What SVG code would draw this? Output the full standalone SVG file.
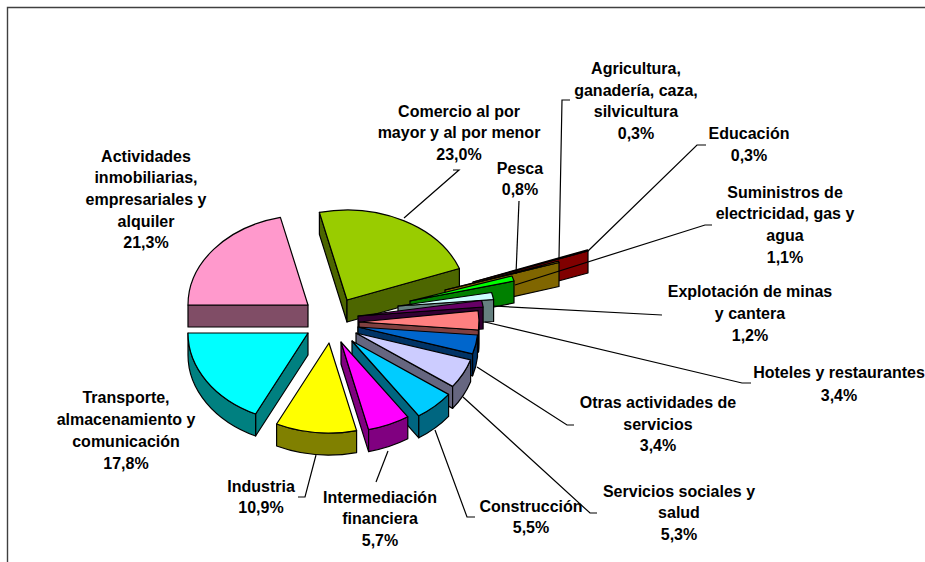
<svg xmlns="http://www.w3.org/2000/svg" width="925" height="562" viewBox="0 0 925 562">
<style>
.s{stroke:#000;stroke-width:1.2;stroke-linejoin:round}
.lbl{font-family:"Liberation Sans",Arial,sans-serif;font-weight:bold;font-size:16px;fill:#000;text-anchor:middle}
.lead{fill:none;stroke:#000;stroke-width:1.2}
.frame{fill:none;stroke:#404040;stroke-width:1.4}
</style>
<rect width="925" height="562" fill="#fff"/>
<g id="frame"><path class="frame" d="M7.5,562 V7.5 H925"/></g>

<g id="comercio">
<path class="s" fill="#4D6600" d="M347,300 L319.4,212.4 L319.4,234.4 L347,322 Z"/>
<path class="s" fill="#4D6600" d="M347,300 L459.4,268.5 L459.4,290.5 L347,322 Z"/>
<path class="s" fill="#99CC00" d="M347,300 L319.4,212.4 A120,90 0 0 1 459.4,268.5 Z"/>
<text class="lbl"><tspan x="459" y="116.5">Comercio al por</tspan><tspan x="459" y="138">mayor y al por menor</tspan><tspan x="459" y="159.5">23,0%</tspan></text>
</g>

<g id="actividades">
<path class="s" fill="#804D66" d="M308,305 L188,305 L188,327 L308,327 Z"/>
<path class="s" fill="#FF99CC" d="M308,305 L188,305 A120,90 0 0 1 280.4,217.4 Z"/>
<text class="lbl"><tspan x="146" y="161.7">Actividades</tspan><tspan x="146" y="183.3">inmobiliarias,</tspan><tspan x="146" y="205">empresariales y</tspan><tspan x="146" y="226.7">alquiler</tspan><tspan x="146" y="248.3">21,3%</tspan></text>
</g>

<g id="educacion">
<path class="s" fill="#800000" d="M473,282 L588,251 L588,273 L473,304 Z"/>
<path class="s" fill="#FF0000" d="M473,282 L587.5,249.8 L588,251 Z"/>
<text class="lbl"><tspan x="749" y="139.3">Educación</tspan><tspan x="749" y="161">0,3%</tspan></text>
</g>

<g id="agricultura">
<path class="s" fill="#806600" d="M445,290 L559,262.5 L559,286.5 L445,312 Z"/>
<path class="s" fill="#FFCC00" d="M445,290 L558.5,261.2 L559,262.5 Z"/>
<text class="lbl"><tspan x="636" y="73.5">Agricultura,</tspan><tspan x="636" y="95.5">ganadería, caza,</tspan><tspan x="636" y="117.3">silvicultura</tspan><tspan x="636" y="139">0,3%</tspan></text>
</g>

<g id="pesca">
<path class="s" fill="#008000" d="M410,301 L514,281 L514,303 L410,323 Z"/>
<path class="s" fill="#00FF00" d="M410,301 L512,276 A120,90 0 0 1 514,281 Z"/>
<text class="lbl"><tspan x="520" y="173.5">Pesca</tspan><tspan x="520" y="195">0,8%</tspan></text>
</g>

<g id="suministros">
<path class="s" fill="#668080" d="M398,306 L493.6,299.5 L493.6,321.5 L398,328 Z"/>
<path class="s" fill="#CCFFFF" d="M398,306 L491.6,292.5 A120,90 0 0 1 493.6,299.5 Z"/>
<text class="lbl"><tspan x="785" y="197.7">Suministros de</tspan><tspan x="785" y="219.3">electricidad, gas y</tspan><tspan x="785" y="241">agua</tspan><tspan x="785" y="262.7">1,1%</tspan></text>
</g>

<g id="explotacion">
<path class="s" fill="#330033" d="M358,316 L483.1,307 L483.1,329 L358,338 Z"/>
<path class="s" fill="#660066" d="M358,316 L481.6,300.5 A120,90 0 0 1 483.1,307 Z"/>
<text class="lbl"><tspan x="750" y="297.3">Explotación de minas</tspan><tspan x="750" y="319.3">y cantera</tspan><tspan x="750" y="341">1,2%</tspan></text>
</g>

<g id="hoteles">
<path class="s" fill="#804040" d="M359,322 L478.5,330 L478.5,352 L359,344 Z"/>
<path class="s" fill="#804040" d="M479,322 A120,90 0 0 1 478.5,330 L478.5,352 A120,90 0 0 0 479,344 Z"/>
<path class="s" fill="#FF8080" d="M359,322 L478.1,310.7 A120,90 0 0 1 478.5,330 Z"/>
<text class="lbl"><tspan x="839" y="378.3">Hoteles y restaurantes</tspan><tspan x="839" y="400.7">3,4%</tspan></text>
</g>

<g id="otras">
<path class="s" fill="#003366" d="M358,327 L472.6,353.8 L472.6,375.8 L358,349 Z"/>
<path class="s" fill="#003366" d="M477.5,335 A120,90 0 0 1 472.6,353.8 L472.6,375.8 A120,90 0 0 0 477.5,357 Z"/>
<path class="s" fill="#0066CC" d="M358,327 L477.5,335 A120,90 0 0 1 472.6,353.8 Z"/>
<text class="lbl"><tspan x="658" y="408.3">Otras actividades de</tspan><tspan x="658" y="429.7">servicios</tspan><tspan x="658" y="451">3,4%</tspan></text>
</g>

<g id="servicios-sociales">
<path class="s" fill="#666680" d="M356,333 L452.6,386.4 L452.6,408.4 L356,355 Z"/>
<path class="s" fill="#666680" d="M470.6,359.8 A120,90 0 0 1 452.6,386.4 L452.6,408.4 A120,90 0 0 0 470.6,381.8 Z"/>
<path class="s" fill="#CCCCFF" d="M356,333 L470.6,359.8 A120,90 0 0 1 452.6,386.4 Z"/>
<text class="lbl"><tspan x="679" y="496.7">Servicios sociales y</tspan><tspan x="679" y="518.3">salud</tspan><tspan x="679" y="540">5,3%</tspan></text>
</g>

<g id="construccion">
<path class="s" fill="#006680" d="M352,341 L418.8,415.8 L418.8,437.8 L352,363 Z"/>
<path class="s" fill="#006680" d="M448.6,394.4 A120,90 0 0 1 418.8,415.8 L418.8,437.8 A120,90 0 0 0 448.6,416.4 Z"/>
<path class="s" fill="#00CCFF" d="M352,341 L448.6,394.4 A120,90 0 0 1 418.8,415.8 Z"/>
<text class="lbl"><tspan x="531" y="511.7">Construcción</tspan><tspan x="531" y="533.3">5,5%</tspan></text>
</g>

<g id="intermediacion">
<path class="s" fill="#800080" d="M341,342 L368.6,429.6 L368.6,451.6 L341,364 Z"/>
<path class="s" fill="#800080" d="M407.8,416.8 A120,90 0 0 1 368.6,429.6 L368.6,451.6 A120,90 0 0 0 407.8,438.8 Z"/>
<path class="s" fill="#FF00FF" d="M341,342 L407.8,416.8 A120,90 0 0 1 368.6,429.6 Z"/>
<text class="lbl"><tspan x="380" y="502.5">Intermediación</tspan><tspan x="380" y="524">financiera</tspan><tspan x="380" y="545.5">5,7%</tspan></text>
</g>

<g id="transporte">
<path class="s" fill="#008080" d="M308,333 L255.6,414 L255.6,436 L308,355 Z"/>
<path class="s" fill="#008080" d="M255.6,414 A120,90 0 0 1 188,333 L188,355 A120,90 0 0 0 255.6,436 Z"/>
<path class="s" fill="#00FFFF" d="M308,333 L255.6,414 A120,90 0 0 1 188,333 Z"/>
<text class="lbl"><tspan x="126" y="402.5">Transporte,</tspan><tspan x="126" y="424.5">almacenamiento y</tspan><tspan x="126" y="446.5">comunicación</tspan><tspan x="126" y="468.5">17,8%</tspan></text>
</g>

<g id="industria">
<path class="s" fill="#808000" d="M356.6,430.6 A120,90 0 0 1 276.6,424 L276.6,446 A120,90 0 0 0 356.6,452.6 Z"/>
<path class="s" fill="#FFFF00" d="M329,343 L356.6,430.6 A120,90 0 0 1 276.6,424 Z"/>
<text class="lbl"><tspan x="261" y="491.7">Industria</tspan><tspan x="261" y="513.3">10,9%</tspan></text>
</g>

<g id="connectors">
<path class="lead" d="M404,218 L459,170 H453"/>
<path class="lead" d="M516,274 L519,201"/>
<path class="lead" d="M559,258 L562,100 H570"/>
<path class="lead" d="M588,251 L697,145 H706"/>
<path class="lead" d="M515,285 L705,225 H712"/>
<path class="lead" d="M493,306 L662,315"/>
<path class="lead" d="M485,322 L742,383 H751"/>
<path class="lead" d="M477,367 L567,425 H574"/>
<path class="lead" d="M463,397 L590,513 H597"/>
<path class="lead" d="M435,430 L467,517 H475"/>
<path class="lead" d="M388,451 L376,482"/>
<path class="lead" d="M316,455 L305,497 H298"/>
</g>
</svg>
